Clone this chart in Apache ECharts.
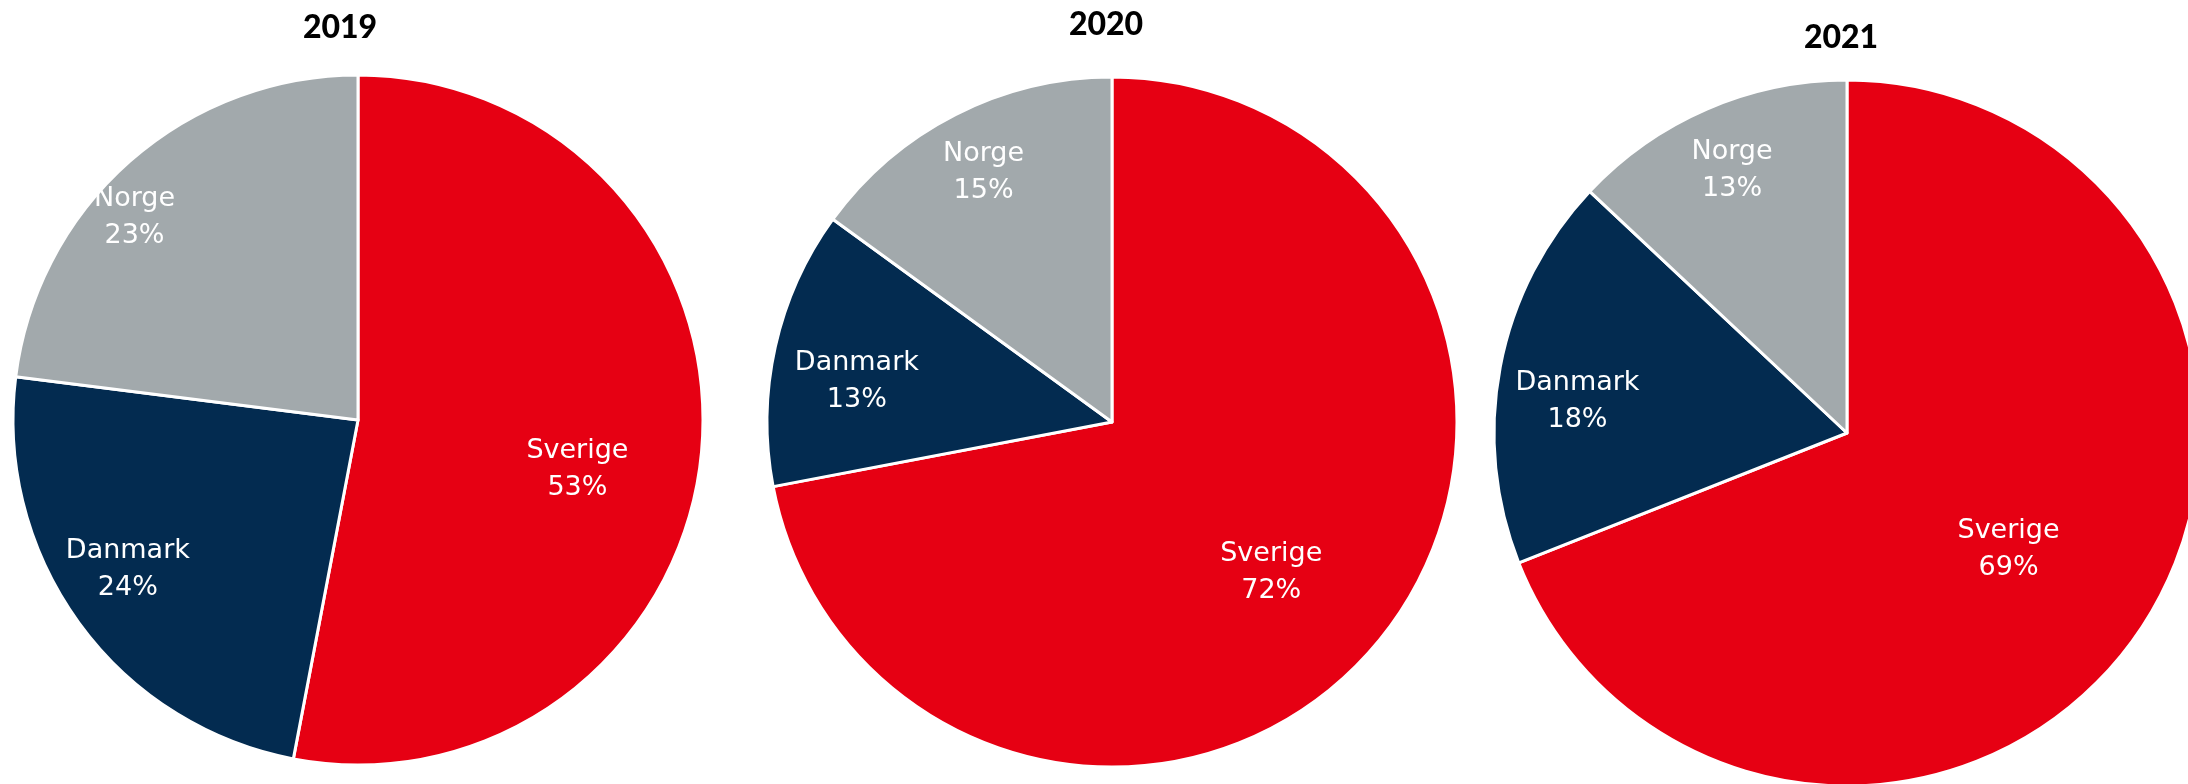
<!DOCTYPE html>
<html>
<head>
<meta charset="utf-8">
<style>
  html, body { margin: 0; padding: 0; background: #fff; }
  #main { width: 2188px; height: 784px; }
</style>
<script src="https://cdn.jsdelivr.net/npm/echarts@6/dist/echarts.min.js"></script>
</head>
<body>
<div id="main"></div>
<script>
var years = ['2019', '2020', '2021'];
var countries = ['Sverige', 'Danmark', 'Norge'];
var share2019 = [53, 24, 23];
var share2020 = [72, 13, 15];
var share2021 = [69, 18, 13];
var shares = [share2019, share2020, share2021];

var colors = ['#E60013', '#032B50', '#A2A9AC'];

// pie placement (px); label distance (fraction of radius) and small angle nudge (deg)
var pies = [
    { center: [358, 420], r: 345, title: [335, 7], labelR: [0.65, 0.79, 0.88], nudge: [6.5, 3.6, -6] },
    { center: [1112, 422], r: 345, title: [1101, 4], labelR: [0.63, 0.75, 0.82], nudge: [3.3, -3, 0] },
    { center: [1847, 433], r: 353, title: [1836, 17], labelR: [0.56, 0.77, 0.82], nudge: [1, -3.4, 0] }
];

var chart = echarts.init(document.getElementById('main'));

function labelPos(si, di) {
    var vals = shares[si], total = 0, before = 0;
    for (var i = 0; i < vals.length; i++) {
        total += vals[i];
        if (i < di) before += vals[i];
    }
    var p = pies[si];
    var a = (before + vals[di] / 2) / total * Math.PI * 2 + p.nudge[di] * Math.PI / 180;
    var d = p.r * p.labelR[di];
    return { x: p.center[0] + d * Math.sin(a), y: p.center[1] - d * Math.cos(a) + 3 };
}

var series = [], titles = [];
for (var s = 0; s < years.length; s++) {
    titles.push({
        text: years[s],
        left: pies[s].title[0],
        top: pies[s].title[1],
        textAlign: 'center',
        textStyle: { fontFamily: 'Lato', fontWeight: 900, fontSize: 32, color: '#000' }
    });
    series.push({
        type: 'pie',
        center: pies[s].center,
        radius: pies[s].r,
        startAngle: 90,
        clockwise: true,
        animation: false,
        silent: true,
        data: countries.map(function (c, i) {
            return { name: c, value: shares[s][i], itemStyle: { color: colors[i] } };
        }),
        itemStyle: { borderColor: '#fff', borderWidth: 3 },
        label: {
            show: true,
            position: 'inside',
            formatter: '{b}\n{c}%',
            color: '#fff',
            fontFamily: 'DejaVu Sans',
            fontWeight: 'normal',
            fontSize: 27,
            lineHeight: 37,
            align: 'center'
        },
        labelLine: { show: false },
        labelLayout: (function (si) {
            return function (params) {
                var p = labelPos(si, params.dataIndex);
                return { x: p.x, y: p.y, align: 'center', verticalAlign: 'middle' };
            };
        })(s)
    });
}

chart.setOption({
    backgroundColor: '#fff',
    title: titles,
    series: series
});
</script>
</body>
</html>
